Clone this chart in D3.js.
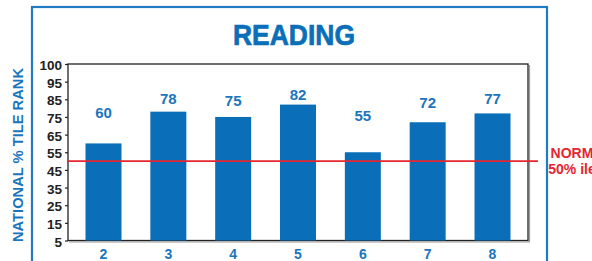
<!DOCTYPE html>
<html>
<head>
<meta charset="utf-8">
<script src="https://cdn.jsdelivr.net/npm/d3@7"></script>
<style>
  body { margin: 0; background: #fff; }
  svg { display: block; font-family: "Liberation Sans", Arial, sans-serif; }
</style>
</head>
<body>
<svg id="chart" width="592" height="261"></svg>
<script>
// grades on the x axis and their national percentile rank
var grades = ["2", "3", "4", "5", "6", "7", "8"];
var ranks = [60, 78, 75, 82, 55, 72, 77];
var yTicks = [5, 15, 25, 35, 45, 55, 65, 75, 85, 95, 105];
var yTickLabels = ["5", "15", "25", "35", "45", "55", "65", "75", "85", "95", "100"];
var normValue = 50;
var normLabel = ["NORM", "50% ile"];

var blue = "#0a6fb8";
var textBlue = "#1b75bc";
var red = "#e5262f";

var svg = d3.select("#chart");

// outer blue box
svg.append("rect")
  .attr("x", 32).attr("y", 7)
  .attr("width", 515).attr("height", 270)
  .attr("fill", "none")
  .attr("stroke", "#1f7bc4")
  .attr("stroke-width", 2.2);

// title, a thin stroke makes it look heavier like the print
svg.append("text")
  .text("READING")
  .attr("x", 294).attr("y", 44.5)
  .attr("text-anchor", "middle")
  .attr("font-size", 29)
  .attr("font-weight", "bold")
  .attr("textLength", 122)
  .attr("lengthAdjust", "spacingAndGlyphs")
  .attr("fill", blue)
  .attr("stroke", blue)
  .attr("stroke-width", 0.7);

var x = d3.scaleBand()
  .domain(grades)
  .range([68, 528])
  .paddingInner(0.445)
  .paddingOuter(0.27);

var y = d3.scaleLinear()
  .domain([5, 105])
  .range([240.5, 64]);

// value labels float above the bars, squeezed together like the print
var labelY = d3.scaleLinear()
  .domain([55, 82])
  .range([116, 95]);

// frame shadow (gray) then frame
svg.append("path")
  .attr("d", "M529.5,65 V242 H69")
  .attr("fill", "none")
  .attr("stroke", "#9a9a9a")
  .attr("stroke-width", 1.2);

svg.append("rect")
  .attr("x", 68).attr("y", y(105))
  .attr("width", 460).attr("height", y(5) - y(105))
  .attr("fill", "none")
  .attr("stroke", "#222")
  .attr("stroke-width", 1.3);

svg.selectAll(".bar")
  .data(ranks)
  .enter().append("rect")
  .attr("class", "bar")
  .attr("x", function(d, i){ return x(grades[i]); })
  .attr("y", function(d){ return y(d); })
  .attr("width", x.bandwidth())
  .attr("height", function(d){ return y(5) - y(d); })
  .attr("fill", blue);

svg.selectAll(".val")
  .data(ranks)
  .enter().append("text")
  .attr("class", "val")
  .text(function(d){ return d; })
  .attr("x", function(d, i){ return x(grades[i]) + x.bandwidth() / 2; })
  .attr("y", function(d){ return labelY(d); })
  .attr("dy", "0.36em")
  .attr("text-anchor", "middle")
  .attr("font-size", 15)
  .attr("font-weight", "bold")
  .attr("fill", textBlue);

// y axis
var yAxis = d3.axisLeft(y)
  .tickValues(yTicks)
  .tickSize(3)
  .tickPadding(3)
  .tickFormat(function(d, i){ return yTickLabels[i]; });

var gy = svg.append("g")
  .attr("transform", "translate(68,0)")
  .call(yAxis);
gy.select(".domain").remove();
gy.selectAll("line").attr("stroke", "#222").attr("stroke-width", 1.2);
gy.selectAll("text")
  .attr("font-size", 13.5)
  .attr("font-weight", "bold")
  .attr("font-family", "Liberation Sans, Arial, sans-serif")
  .attr("fill", "#222")
  .attr("dy", "0.42em");

// x axis labels
var gx = svg.append("g")
  .attr("transform", "translate(0,241)")
  .call(d3.axisBottom(x).tickSize(0).tickPadding(8));
gx.select(".domain").remove();
gx.selectAll("text")
  .attr("font-size", 14)
  .attr("font-weight", "bold")
  .attr("font-family", "Liberation Sans, Arial, sans-serif")
  .attr("fill", textBlue);

// norm line
svg.append("line")
  .attr("x1", 67).attr("x2", 538)
  .attr("y1", y(normValue)).attr("y2", y(normValue))
  .attr("stroke", red)
  .attr("stroke-width", 1.6);

svg.selectAll(".norm")
  .data(normLabel)
  .enter().append("text")
  .attr("class", "norm")
  .text(function(d){ return d; })
  .attr("x", 572)
  .attr("y", function(d, i){ return 157.5 + i * 16.5; })
  .attr("text-anchor", "middle")
  .attr("font-size", 14)
  .attr("font-weight", "bold")
  .attr("fill", red);

svg.append("text")
  .text("NATIONAL % TILE RANK")
  .attr("transform", "translate(23,155) rotate(-90)")
  .attr("text-anchor", "middle")
  .attr("font-size", 15)
  .attr("font-weight", "bold")
  .attr("textLength", 174)
  .attr("lengthAdjust", "spacingAndGlyphs")
  .attr("fill", textBlue);
</script>
</body>
</html>
